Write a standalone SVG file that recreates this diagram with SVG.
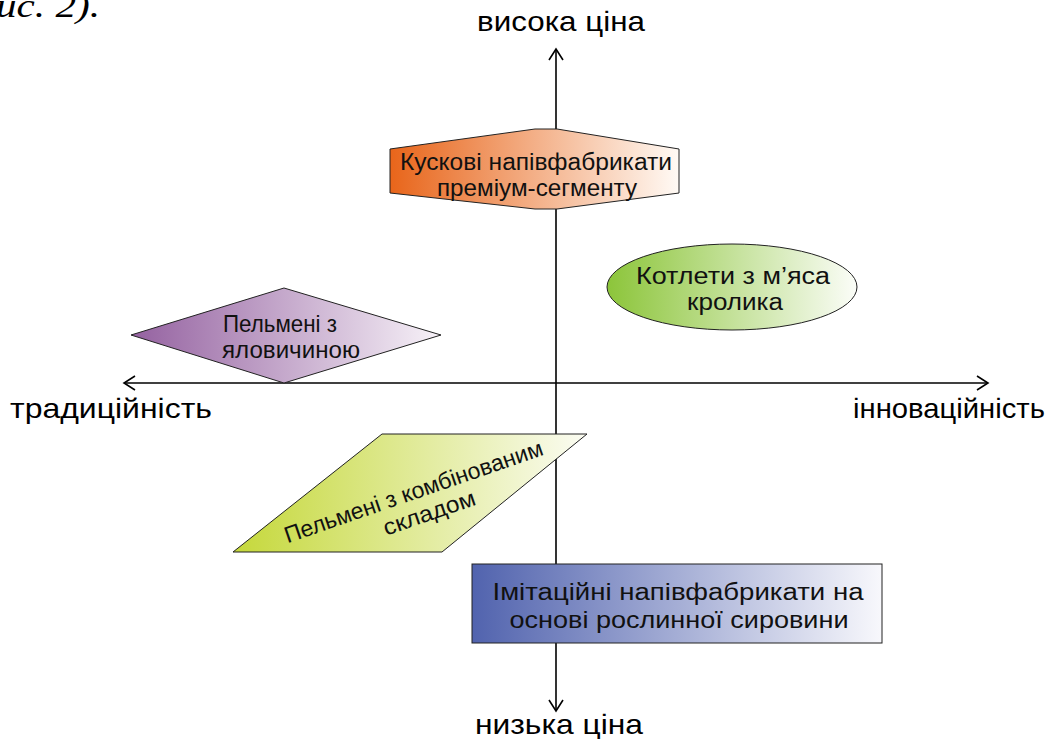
<svg xmlns="http://www.w3.org/2000/svg" width="1049" height="739" viewBox="0 0 1049 739">
<style>
.lbl{font-family:"Liberation Sans",Arial,sans-serif;font-size:28px;fill:#000}
.nt{font-family:"Liberation Sans",Arial,sans-serif;font-size:23px;fill:#111;text-anchor:middle}
.shape{stroke:#222;stroke-width:1}
.axis{stroke:#000;stroke-width:1.6;fill:none}
</style>
<defs>
<linearGradient id="gOrange" x1="0" y1="0" x2="1" y2="0"><stop offset="0" stop-color="#E8651A"/><stop offset="1" stop-color="#FFFAF5"/></linearGradient>
<linearGradient id="gGreen" x1="0" y1="0" x2="1" y2="0"><stop offset="0" stop-color="#8CC53A"/><stop offset="1" stop-color="#FBFDF8"/></linearGradient>
<linearGradient id="gPurple" x1="0" y1="0" x2="1" y2="0"><stop offset="0" stop-color="#9461A0"/><stop offset="1" stop-color="#F7F2F8"/></linearGradient>
<linearGradient id="gLime" x1="0" y1="0" x2="1" y2="0"><stop offset="0" stop-color="#C5D83A"/><stop offset="1" stop-color="#FBFCF3"/></linearGradient>
<linearGradient id="gBlue" x1="0" y1="0" x2="1" y2="0"><stop offset="0" stop-color="#5163AE"/><stop offset="1" stop-color="#F8F8FC"/></linearGradient>
</defs>
<rect width="1049" height="739" fill="#fff"/>
<text x="-4" y="17" font-family="Liberation Serif,Times New Roman,serif" font-size="33" font-style="italic" textLength="104" lengthAdjust="spacingAndGlyphs">ис. 2).</text>

<g id="connectors">
<line class="axis" x1="556" y1="49" x2="556" y2="711"/>
<polyline class="axis" points="549,60 556,49 563,60"/>
<polyline class="axis" points="549,700 556,711 563,700"/>
<line class="axis" x1="124" y1="383" x2="988" y2="383"/>
<polyline class="axis" points="135,376 124,383 135,390"/>
<polyline class="axis" points="977,376 988,383 977,390"/>
</g>

<g id="axis-labels">
<text class="lbl" x="477" y="31" textLength="168" lengthAdjust="spacingAndGlyphs">висока ціна</text>
<text class="lbl" x="475" y="734" textLength="168" lengthAdjust="spacingAndGlyphs">низька ціна</text>
<text class="lbl" x="10" y="418" textLength="202" lengthAdjust="spacingAndGlyphs">традиційність</text>
<text class="lbl" x="853" y="418" textLength="192" lengthAdjust="spacingAndGlyphs">інноваційність</text>
</g>

<g id="node-premium">
<polygon class="shape" fill="url(#gOrange)" points="390,149 535,129 557,129 679,149 679,193 557,209 535,209 390,193"/>
<text class="nt" x="536" y="170" textLength="272" lengthAdjust="spacingAndGlyphs">Кускові напівфабрикати</text>
<text class="nt" x="537" y="196" textLength="200" lengthAdjust="spacingAndGlyphs">преміум-сегменту</text>
</g>

<g id="node-rabbit">
<ellipse class="shape" fill="url(#gGreen)" cx="732" cy="287" rx="125" ry="43"/>
<text class="nt" x="733" y="284" textLength="194" lengthAdjust="spacingAndGlyphs">Котлети з м’яса</text>
<text class="nt" x="735" y="310" textLength="96" lengthAdjust="spacingAndGlyphs">кролика</text>
</g>

<g id="node-beef">
<polygon class="shape" fill="url(#gPurple)" points="131,335 284,288 441,335 284,383"/>
<text class="nt" x="280" y="332" textLength="114" lengthAdjust="spacingAndGlyphs">Пельмені з</text>
<text class="nt" x="291" y="358" textLength="138" lengthAdjust="spacingAndGlyphs">яловичиною</text>
</g>

<g id="node-combined">
<polygon class="shape" fill="url(#gLime)" points="382,434 587,434 442,552 233,552"/>
<g transform="rotate(-19 416 499)">
<text class="nt" x="416" y="499" textLength="272" lengthAdjust="spacingAndGlyphs">Пельмені з комбінованим</text>
<text class="nt" x="424" y="524" textLength="96" lengthAdjust="spacingAndGlyphs">складом</text>
</g>
</g>

<g id="node-plant">
<rect class="shape" fill="url(#gBlue)" x="472" y="564" width="410" height="79"/>
<text class="nt" x="678" y="600" textLength="371" lengthAdjust="spacingAndGlyphs">Імітаційні напівфабрикати на</text>
<text class="nt" x="679" y="628" textLength="339" lengthAdjust="spacingAndGlyphs">основі рослинної сировини</text>
</g>
</svg>
